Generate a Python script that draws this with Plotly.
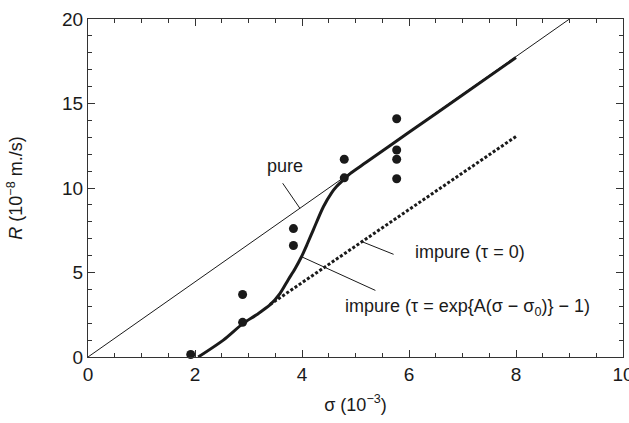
import plotly.graph_objects as go

# Measured growth rate R (10^-8 m/s) against supersaturation sigma (10^-3)
sigma_obs = [1.92, 2.89, 2.89, 3.84, 3.84, 4.79, 4.79, 5.77, 5.77, 5.77, 5.77]
rate_obs = [0.15, 3.7, 2.05, 7.6, 6.6, 11.7, 10.6, 14.1, 12.25, 11.7, 10.55]

# Pure crystal: straight line through the origin
sigma_pure = [0.0, 9.0]
rate_pure = [0.0, 20.0]

# Impure, tau = 0 (dotted straight line)
sigma_imp0 = [3.4, 8.0]
rate_imp0 = [3.1, 13.05]

# Impure, tau = exp{A(sigma - sigma0)} - 1 (thick curve)
sigma_impA = [2.06, 2.53, 2.9, 3.15, 3.4, 3.59, 3.74, 3.87, 3.99, 4.1,
              4.21, 4.4, 4.55, 4.65, 4.78, 4.9, 5.2, 6.0, 7.0, 8.0]
rate_impA = [0.0, 1.0, 1.99, 2.5, 3.08, 3.77, 4.56, 5.22, 5.93, 6.7,
             7.51, 8.89, 9.7, 10.1, 10.5, 10.85, 11.52, 13.3, 15.5, 17.72]

FONT = "Liberation Sans, Arial, Helvetica, sans-serif"
INK = "#1a1a1a"

fig = go.Figure()

fig.add_trace(go.Scatter(x=sigma_pure, y=rate_pure, mode="lines",
                         line=dict(color=INK, width=1), hoverinfo="skip"))
fig.add_trace(go.Scatter(x=sigma_imp0, y=rate_imp0, mode="lines",
                         line=dict(color=INK, width=3, dash="3px,2px"),
                         hoverinfo="skip"))
fig.add_trace(go.Scatter(x=sigma_impA, y=rate_impA, mode="lines",
                         line=dict(color=INK, width=3, shape="spline",
                                   smoothing=0.8),
                         hoverinfo="skip"))
fig.add_trace(go.Scatter(x=sigma_obs, y=rate_obs, mode="markers",
                         marker=dict(color=INK, size=9), hoverinfo="skip",
                         cliponaxis=False))

# Curve labels
labels = [
    dict(text="pure", x=3.68, y=11.3, xanchor="center"),
    dict(text="impure (τ = 0)", x=6.08, y=6.2, xanchor="left"),
    dict(text="impure (τ = exp{A(σ − σ<sub>0</sub>)} − 1)", x=4.76, y=2.9,
         xanchor="left"),
]
for lab in labels:
    fig.add_annotation(x=lab["x"], y=lab["y"], text=lab["text"],
                       xanchor=lab["xanchor"], yanchor="middle",
                       showarrow=False,
                       font=dict(family=FONT, size=18, color=INK))

# Leader lines from labels to their curves: (tail, head) in data units
leaders = [
    ((3.62, 10.37), (3.96, 8.8)),
    ((5.74, 6.04), (5.14, 6.8)),
    ((5.40, 3.9), (4.0, 5.92)),
]
for (tx, ty), (hx, hy) in leaders:
    fig.add_annotation(x=hx, y=hy, ax=tx, ay=ty, axref="x", ayref="y",
                       text="", showarrow=True, arrowhead=0, arrowwidth=1,
                       arrowcolor=INK, standoff=0, startstandoff=0,
                       font=dict(size=1))

# Y-axis title, placed in the left margin
fig.add_annotation(xref="paper", yref="paper", x=-0.137, y=0.5,
                   text="<i>R</i> (10<sup>−8</sup> m./s)", textangle=-90,
                   showarrow=False, xanchor="center", yanchor="middle",
                   font=dict(family=FONT, size=18, color=INK))

axis_common = dict(
    showline=True, linecolor="#333333", linewidth=1.2, mirror="ticks",
    ticks="inside", ticklen=7, tickwidth=1, tickcolor="#333333",
    showgrid=False, zeroline=False, automargin=False,
    ticklabeloverflow="allow",
    tickfont=dict(family=FONT, size=19, color=INK),
)

fig.update_xaxes(range=[0, 10.0001], dtick=2, tick0=0,
                 minor=dict(dtick=0.5, ticks="inside", ticklen=4,
                            tickcolor="#333333", showgrid=False),
                 title=dict(text="σ (10<sup>−3</sup>)", standoff=14,
                            font=dict(family=FONT, size=18, color=INK)),
                 **axis_common)
fig.update_yaxes(range=[0, 20.0001], dtick=5, tick0=0,
                 minor=dict(dtick=1, ticks="inside", ticklen=4,
                            tickcolor="#333333", showgrid=False),
                 **axis_common)

fig.update_layout(
    width=629, height=423,
    margin=dict(l=88, r=6, t=19, b=66),
    paper_bgcolor="white", plot_bgcolor="white",
    showlegend=False,
)

fig.write_html("out.html")
